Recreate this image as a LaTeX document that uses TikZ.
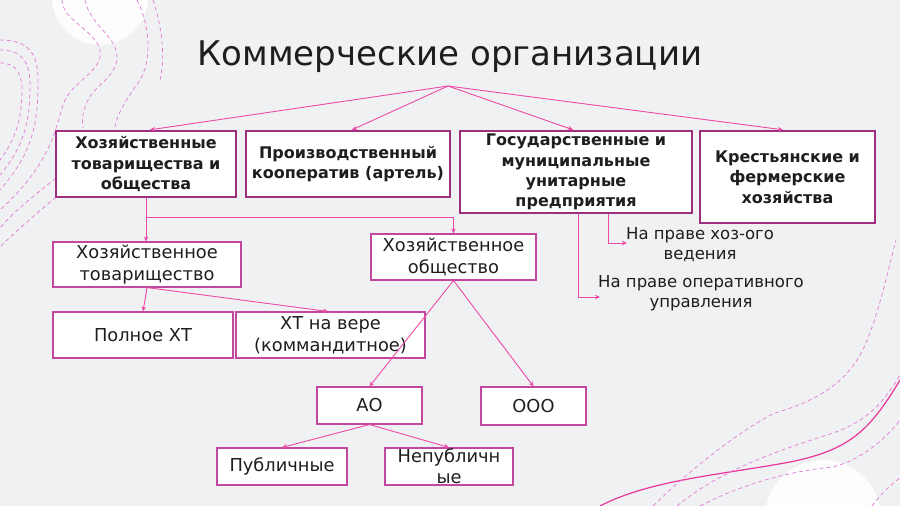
\documentclass[tikz,border=0pt]{standalone}
\usepackage{fontspec}
\setmainfont{DejaVu Sans}
\usetikzlibrary{arrows.meta}
\definecolor{bgc}{HTML}{F0F1F2}
\definecolor{topc}{HTML}{9E2F7F}
\definecolor{boxc}{HTML}{C2479E}
\definecolor{arrc}{HTML}{EC4AA6}
\definecolor{decc}{HTML}{E27AD6}
\definecolor{solc}{HTML}{E8369A}
\definecolor{txtc}{HTML}{1E1E1E}
\begin{document}
\begin{tikzpicture}[x=1pt,y=-1pt,
 topbox/.style={draw=topc, line width=2.4pt, fill=white, align=center, inner sep=0pt, text=txtc, font=\fontsize{16}{20.3}\selectfont\bfseries},
 lowbox/.style={draw=boxc, line width=1.1pt, fill=white, align=center, inner sep=0pt, text=txtc, font=\fontsize{17.8}{22}\selectfont},
 lab/.style={align=center, inner sep=0pt, text=txtc, font=\fontsize{16.5}{20}\selectfont},
 arr/.style={draw=arrc, line width=0.9pt, -{Stealth[length=5pt,width=4.5pt]}},
 deco/.style={draw=decc, line width=0.7pt, dash pattern=on 4pt off 3pt},
]
\useasboundingbox (0,0) rectangle (900,506);
\fill[bgc] (0,0) rectangle (900,506);
\begin{scope}
\clip (0,0) rectangle (900,506);
\fill[white, opacity=0.9] (100,-3) circle[radius=48];
\fill[white, opacity=0.9] (823,518) circle[radius=58];
% left decorations
\draw[deco] (0,40) .. controls (30,40) and (38,55) .. (38,80) .. controls (38,120) and (35,150) .. (0,190);
\draw[deco] (0,50) .. controls (22,50) and (30,62) .. (30,85) .. controls (30,120) and (25,145) .. (0,175);
\draw[deco] (0,63) .. controls (15,63) and (22,72) .. (22,90) .. controls (22,120) and (15,140) .. (0,160);
\draw[deco] (62,0) .. controls (62,20) and (95,30) .. (100,50) .. controls (104,70) and (75,80) .. (65,100) .. controls (55,125) and (55,160) .. (0,210);
\draw[deco] (85,0) .. controls (90,25) and (115,35) .. (117,55) .. controls (119,75) and (95,85) .. (88,100) .. controls (82,112) and (82,120) .. (83,128);
\draw[deco] (137,0) .. controls (150,25) and (152,60) .. (140,80) .. controls (130,95) and (118,110) .. (115,127);
\draw[deco] (153,0) .. controls (163,30) and (165,60) .. (160,80);
\draw[deco] (56,178) .. controls (35,195) and (15,210) .. (0,228);
\draw[deco] (56,197) .. controls (35,215) and (15,232) .. (0,247);
% bottom right decorations
\draw[solc, line width=1.2pt] (600,506) .. controls (650,480) and (720,475) .. (790,462) .. controls (850,450) and (870,430) .. (900,380);
\draw[deco] (653,506) .. controls (690,470) and (740,430) .. (775,413) .. controls (820,400) and (850,380) .. (865,345) .. controls (880,310) and (888,270) .. (896,240);
\draw[deco] (677,506) .. controls (720,470) and (780,450) .. (833,433) .. controls (870,420) and (885,400) .. (900,375);
\draw[deco] (700,506) .. controls (750,480) and (800,470) .. (833,467) .. controls (860,460) and (885,440) .. (900,420);
\draw[deco] (872,506) .. controls (880,495) and (890,485) .. (900,478);
\end{scope}

\node[text=txtc, font=\fontsize{34}{40}\selectfont, inner sep=0pt] (title) at (450,57) {Коммерческие организации};
\coordinate (apex) at (448,86);

\node[topbox, minimum width=180pt, minimum height=66pt] (b1) at (146,164) {Хозяйственные\\товарищества и\\общества};
\node[topbox, minimum width=204pt, minimum height=66pt] (b2) at (348,164) {Производственный\\кооператив (артель)};
\node[topbox, minimum width=232pt, minimum height=82pt] (b3) at (576,172) {Государственные и\\муниципальные\\унитарные\\предприятия};
\node[topbox, minimum width=175pt, minimum height=92pt] (b4) at (787.5,177) {Крестьянские и\\фермерские\\хозяйства};

\node[lowbox, minimum width=188pt, minimum height=45pt] (ht) at (147,264.5) {Хозяйственное\\товарищество};
\node[lowbox, minimum width=165pt, minimum height=46pt] (ho) at (453.5,257) {Хозяйственное\\общество};
\node[lowbox, minimum width=180pt, minimum height=46pt] (pht) at (143,335) {Полное ХТ};
\node[lowbox, minimum width=189pt, minimum height=46pt] (htv) at (330.5,335) {ХТ на вере\\(коммандитное)};
\node[lowbox, minimum width=105pt, minimum height=37pt] (ao) at (369.5,405.5) {АО};
\node[lowbox, minimum width=105pt, minimum height=38pt] (ooo) at (533.5,406) {ООО};
\node[lowbox, minimum width=130pt, minimum height=37pt] (pub) at (282,466.5) {Публичные};
\node[lowbox, minimum width=128pt, minimum height=37pt] (npub) at (449,466.5) {};
\node[lab, font=\fontsize{17.8}{21}\selectfont] (npubt) at (npub.center) {Непубличн\\ые};

\node[lab] (lab1) at (700,245) {На праве хоз-ого\\ведения};
\node[lab] (lab2) at (701,293) {На праве оперативного\\управления};

% connectors
\draw[arr] (apex) -- ([xshift=4pt]b1.north);
\draw[arr] (apex) -- ([xshift=4pt]b2.north);
\draw[arr] (apex) -- ([xshift=-3pt]b3.north);
\draw[arr] (apex) -- ([xshift=-4.5pt]b4.north);
\draw[arr] (b1.south) -- (b1.south |- ht.north);
\draw[arr] ([yshift=-19pt]b1.south) -| (ho.north);
\draw[arr] (ht.south) -- (pht.north);
\draw[arr] (ht.south) -- ([xshift=-2.5pt]htv.north);
\draw[arr] ([xshift=32pt]b3.south) |- ([xshift=1pt,yshift=2pt]lab1.west);
\draw[arr] ([xshift=2pt]b3.south) |- ([xshift=2pt,yshift=-4pt]lab2.west);
\draw[arr] (ho.south) -- (ao.north);
\draw[arr] (ho.south) -- (ooo.north);
\draw[arr] (ao.south) -- (pub.north);
\draw[arr] (ao.south) -- (npub.north);
\end{tikzpicture}
\end{document}
